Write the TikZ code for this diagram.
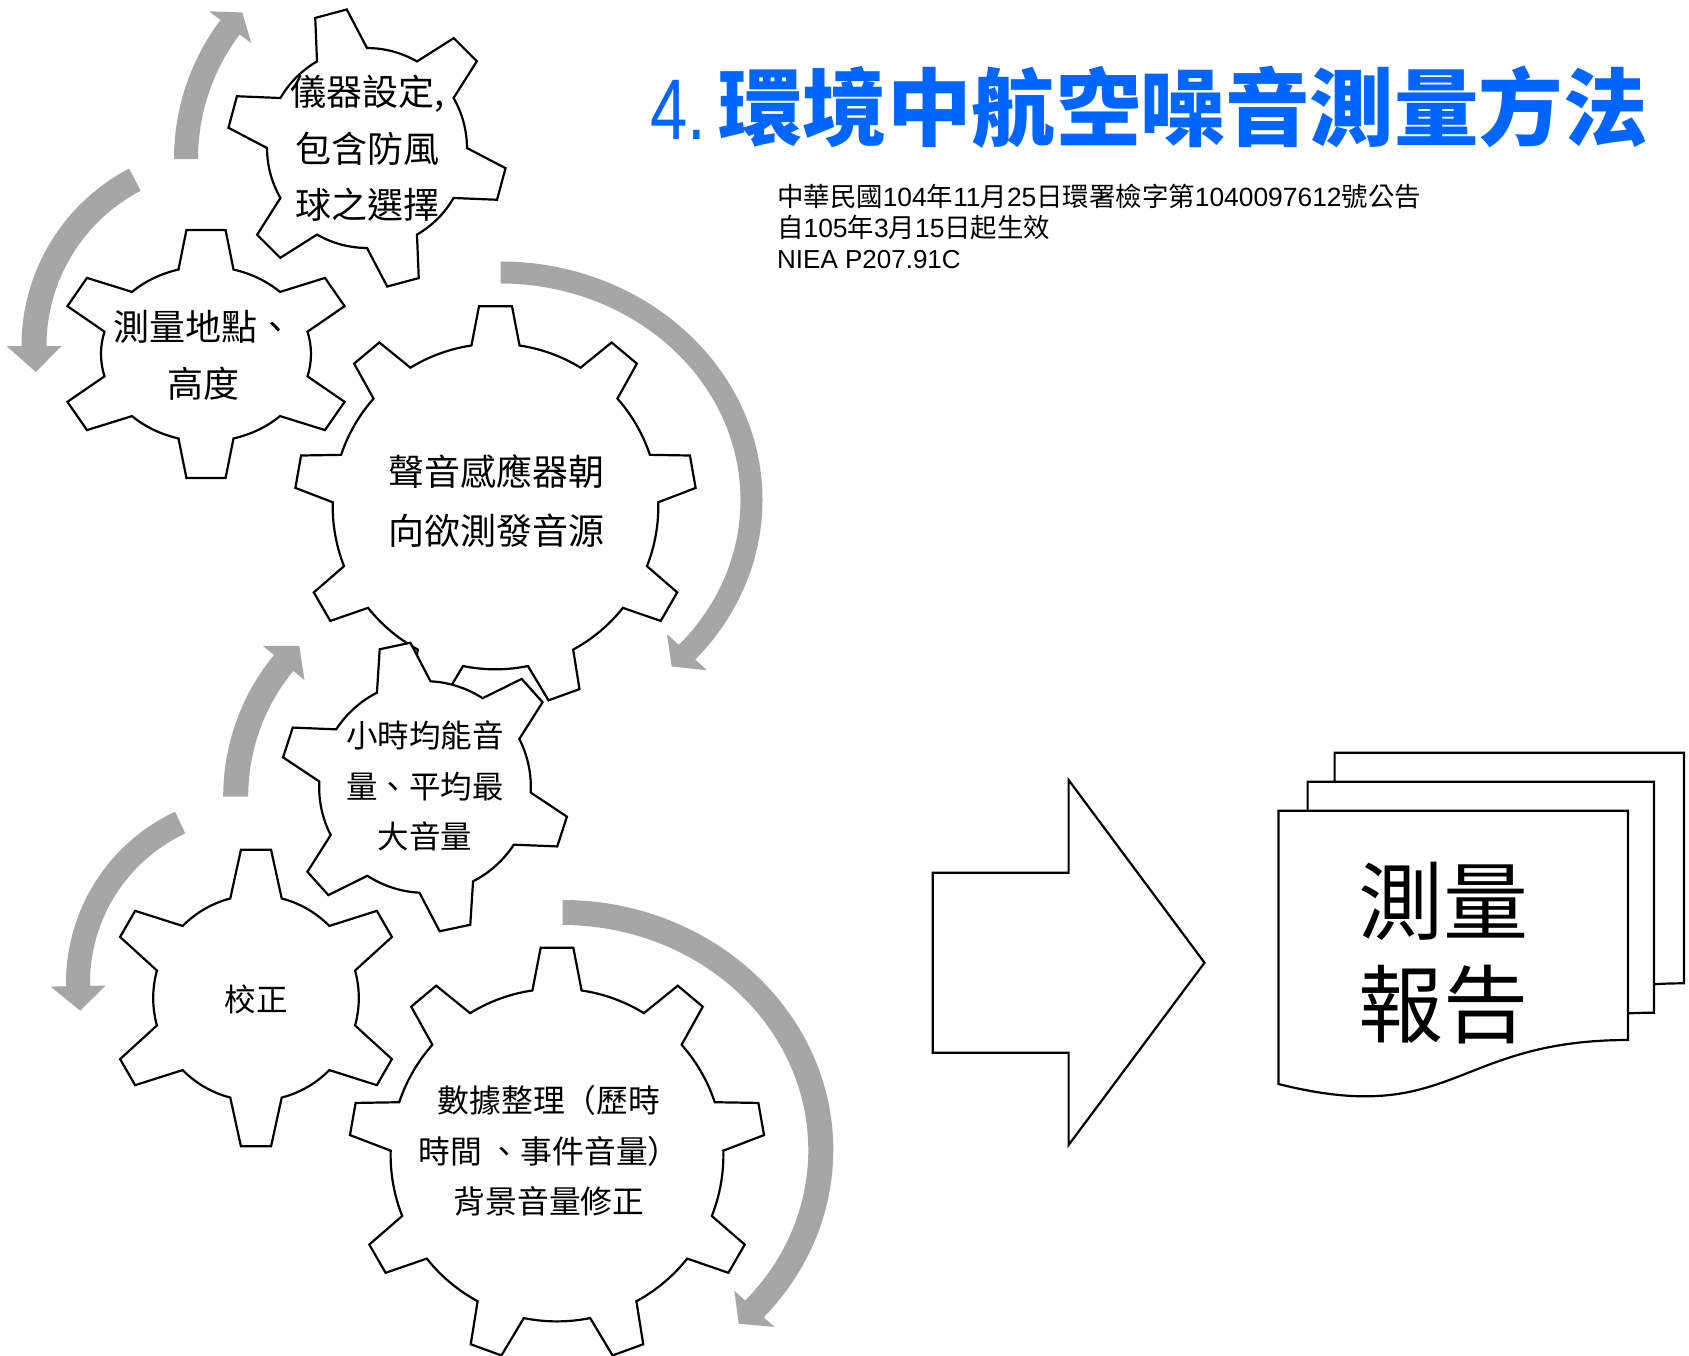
\documentclass[tikz,border=0pt]{standalone}
\usepackage{fontspec}
\newfontfamily\cjk{Noto Sans CJK TC}
\newfontfamily\lat{Liberation Sans}
\newcommand{\fs}[2]{\fontsize{#1}{#2}\selectfont}
\newcommand{\ld}[1]{{\lat #1}}
\definecolor{titleblue}{RGB}{0,102,255}
\definecolor{arrowgray}{RGB}{166,166,166}
\tikzset{
  gearline/.style={draw=black, fill=white, line width=2.2pt},
  gtext/.style={align=center, inner sep=0pt, text=black},
  shapeline/.style={draw=black, fill=white, line width=2.2pt},
}
% gear: cx, cy, Rx, Ry, teeth, first tooth angle, inner ratio, tip half angle, base half angle
\newcommand{\gear}[9]{%
  \pgfmathsetmacro{\gstep}{360/#5}%
  \pgfmathsetmacro{\grx}{#3*#7}%
  \pgfmathsetmacro{\gry}{#4*#7}%
  \pgfmathsetmacro{\gstart}{#6-#9}%
  \draw[gearline,shift={(#1,#2)}] ({\gstart}:{\grx} and {\gry})
   \foreach \k [evaluate=\k as \ga using {#6+(\k-1)*\gstep},
                evaluate=\k as \gb using {#6+(\k-1)*\gstep+#9},
                evaluate=\k as \gc using {#6+\k*\gstep-#9}] in {1,...,#5}{
     -- ({\ga-#8}:{#3} and {#4}) -- ({\ga+#8}:{#3} and {#4}) -- ({\gb}:{\grx} and {\gry})
     arc[start angle=\gb, end angle=\gc, x radius=\grx, y radius=\gry]
   } -- cycle;
}
% curved arrow: cx, cy, rx, ry (mid), half width, tail angle, base angle, apex angle, wing
\newcommand{\carrow}[9]{%
  \pgfmathsetmacro{\aox}{#3+#5}\pgfmathsetmacro{\aoy}{#4+#5}%
  \pgfmathsetmacro{\aix}{#3-#5}\pgfmathsetmacro{\aiy}{#4-#5}%
  \pgfmathsetmacro{\awox}{#3+#9}\pgfmathsetmacro{\awoy}{#4+#9}%
  \pgfmathsetmacro{\awix}{#3-#9}\pgfmathsetmacro{\awiy}{#4-#9}%
  \fill[arrowgray,shift={(#1,#2)}] ({#6}:{\aox} and {\aoy})
    arc[start angle=#6, end angle=#7, x radius=\aox, y radius=\aoy]
    -- ({#7}:{\awox} and {\awoy}) -- ({#8}:{#3} and {#4}) -- ({#7}:{\awix} and {\awiy})
    -- ({#7}:{\aix} and {\aiy})
    arc[start angle=#7, end angle=#6, x radius=\aix, y radius=\aiy] -- cycle;
}
\begin{document}
\begin{tikzpicture}[x=1pt,y=-1pt]
\useasboundingbox (0,0) rectangle (1689,1355);
\fill[white] (0,0) rectangle (1689,1355);

% ---- curved arrows ----
\carrow{405}{159}{219}{219}{12}{180}{217}{222}{26.5}
\carrow{221.5}{346}{187.5}{187.5}{12.5}{242.5}{180}{172}{27.5}
\carrow{500.5}{500}{251}{227.5}{11}{-90}{42}{47}{27}
\carrow{445.7}{796.5}{210}{210}{12.5}{180}{219.5}{225.8}{27}
\carrow{255}{983}{177}{177}{12}{245}{179}{171}{27.5}
\carrow{562.5}{1150}{258.3}{237.5}{12.5}{-90}{42}{47}{27}

% ---- gears ----
\gear{367}{148}{140}{140}{6}{-105}{0.714}{6.7}{15}
\gear{206}{354}{150}{125}{6}{-90}{0.70}{7.5}{15.2}
\gear{495.5}{506.5}{201}{201}{9}{-90}{0.81}{4.7}{8.5}
\gear{425}{787}{145}{145}{6}{-102}{0.73}{6.2}{15}
\gear{256}{998}{149}{149}{6}{-90}{0.69}{5.8}{14.5}
\gear{557}{1155}{208}{208}{9}{-90}{0.80}{4.5}{8.5}

% ---- gear texts ----
\node[gtext, font={\cjk\fs{36}{56.7}}] (t1) at (367.5,148.5) {儀器設定,\\包含防風\\球之選擇};
\node[gtext, font={\cjk\fs{36}{56.7}}] (t2) at (203,355) {測量地點、\\高度};
\node[gtext, font={\cjk\fs{36}{59}}] (t3) at (496,501.5) {聲音感應器朝\\向欲測發音源};
\node[gtext, font={\cjk\fs{31.5}{50.7}}] (t4) at (425,786) {小時均能音\\量、平均最\\大音量};
\node[gtext, font={\cjk\fs{31.5}{40}}] (t5) at (256,999) {校正};
\node[gtext, font={\cjk\fs{31.8}{50.4}}] (t6) at (549,1151) {數據整理（歷時\\時間 、事件音量）\\背景音量修正};

% ---- title ----
\node[anchor=base west, inner sep=0pt, text=titleblue] (title) at (650,139)
  {{\lat\fs{86}{86}\scalebox{0.78}[1]{4.}}\hspace{12pt}{\cjk\bfseries\fs{84.5}{86}環境中航空噪音測量方法}};
\node[anchor=base west, inner sep=0pt, font={\cjk\fs{26.4}{30}}] (s1) at (777,206.5)
  {中華民國\ld{104}年\ld{11}月\ld{25}日環署檢字第\ld{1040097612}號公告};
\node[anchor=base west, inner sep=0pt, font={\cjk\fs{26.4}{30}}] (s2) at (777,237.5)
  {自\ld{105}年\ld{3}月\ld{15}日起生效};
\node[anchor=base west, inner sep=0pt, font={\lat\fs{26}{30}}] (s3) at (777,268)
  {NIEA P207.91C};

% ---- block arrow ----
\draw[shapeline, line join=miter] (932.7,872.7) -- (1068.6,872.7) -- (1068.6,780) -- (1204.5,962.7)
  -- (1068.6,1145) -- (1068.6,1052.7) -- (932.7,1052.7) -- cycle;

% ---- document stack ----
\draw[shapeline] (1334.6,752.7) -- (1684,752.7) -- (1684,983.3)
  .. controls (1509.3,983.3) and (1509.3,1071.3) .. (1334.6,1027.3) -- cycle;
\draw[shapeline] (1307.6,781.7) -- (1654,781.7) -- (1654,1012.7)
  .. controls (1480.8,1012.7) and (1480.8,1100.7) .. (1307.6,1056.7) -- cycle;
\draw[shapeline] (1278.5,810.7) -- (1628,810.7) -- (1628,1040)
  .. controls (1453.3,1040) and (1453.3,1128) .. (1278.5,1084) -- cycle;
\node[gtext, font={\cjk\fs{85}{103.6}}] (rep) at (1443.5,953) {測量\\報告};
\end{tikzpicture}
\end{document}
